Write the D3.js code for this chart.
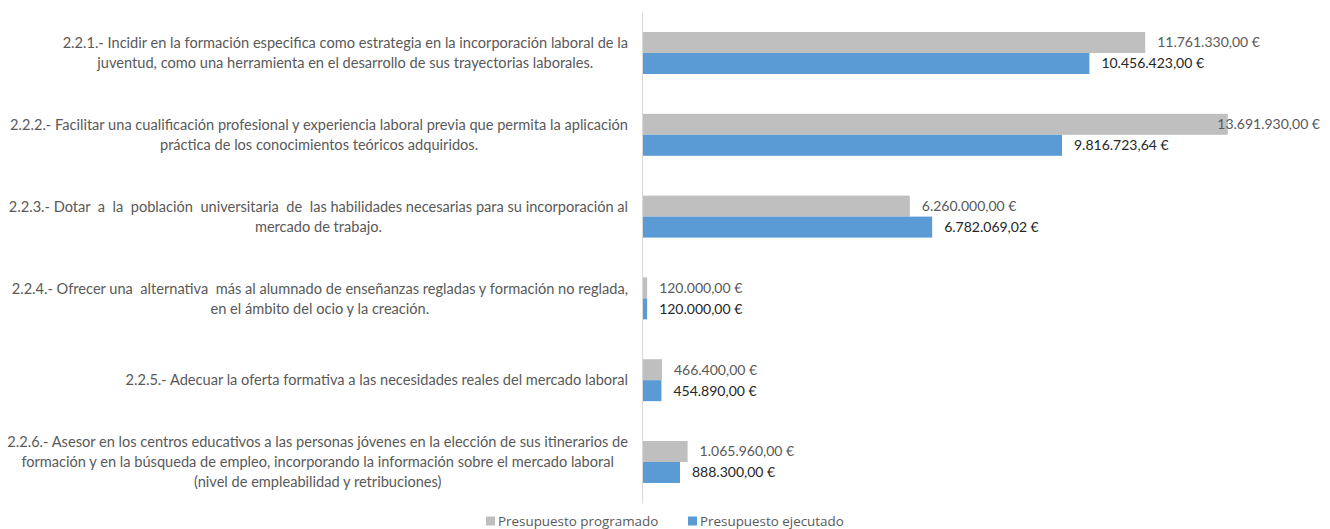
<!DOCTYPE html>
<head>
  <meta charset="utf-8">
  <script src="https://cdn.jsdelivr.net/npm/d3@7/dist/d3.min.js"></script>
  <style>
    body { margin:0; background:#fff; }
    svg { display:block; }
    .etiqueta text { white-space: pre; }
  </style>
</head>

<body>
  <script>
    var width = 1330;
    var height = 529;

    // category labels, one entry per line as they wrap in the picture
    var categorias = [
      ["2.2.1.- Incidir en la formación especifica como estrategia en la incorporación laboral de la",
       "juventud, como una herramienta en el desarrollo de sus trayectorias laborales."],
      ["2.2.2.- Facilitar una cualificación profesional y experiencia laboral previa que permita la aplicación",
       "práctica de los conocimientos teóricos adquiridos."],
      ["2.2.3.- Dotar  a  la  población  universitaria  de  las habilidades necesarias para su incorporación al",
       "mercado de trabajo."],
      ["2.2.4.- Ofrecer una  alternativa  más al alumnado de enseñanzas regladas y formación no reglada,",
       "en el ámbito del ocio y la creación."],
      ["2.2.5.- Adecuar la oferta formativa a las necesidades reales del mercado laboral"],
      ["2.2.6.- Asesor en los centros educativos a las personas jóvenes en la elección de sus itinerarios de",
       "formación y en la búsqueda de empleo, incorporando la información sobre el mercado laboral",
       "(nivel de empleabilidad y retribuciones)"]
    ];
    var series = ["Presupuesto programado", "Presupuesto ejecutado"];
    var programado = [11761330, 13691930, 6260000, 120000, 466400, 1065960];
    var ejecutado = [10456423, 9816723.64, 6782069.02, 120000, 454890, 888300];

    var colores = ["#bfbfbf", "#5b9bd5"];
    var colorTexto = ["#595959", "#262626"];
    var fuente = "Lato, 'Liberation Sans', sans-serif";

    var es = d3.formatLocale({ decimal: ",", thousands: ".", grouping: [3], currency: ["", " €"] });
    var fmt = es.format(",.2f");

    var svg = d3.select("body").append("svg")
      .attr("width", width)
      .attr("height", height)
      .style("font-family", fuente);

    var ids = categorias.map(function (d, i) { return i; });

    var y = d3.scaleBand()
      .domain(ids)
      .range([12, 503])
      .paddingInner(0.487)
      .paddingOuter(0.245);

    var ySub = d3.scaleBand()
      .domain([0, 1])
      .range([0, y.bandwidth()]);

    var x = d3.scaleLinear()
      .domain([0, 14000000])
      .range([642, 1241]);

    // bars
    var datos = ids.map(function (i) {
      return { i: i, vals: [programado[i], ejecutado[i]] };
    });

    var grupos = svg.selectAll("g.cat")
      .data(datos).enter()
      .append("g")
      .attr("class", "cat")
      .attr("transform", function (d) { return "translate(0," + y(d.i) + ")"; });

    grupos.selectAll("rect")
      .data(function (d) { return d.vals.map(function (v, s) { return { v: v, s: s }; }); })
      .enter().append("rect")
      .attr("x", x(0))
      .attr("y", function (d) { return ySub(d.s); })
      .attr("width", function (d) { return x(d.v) - x(0); })
      .attr("height", ySub.bandwidth())
      .attr("fill", function (d) { return colores[d.s]; });

    // value labels
    grupos.selectAll("text.valor")
      .data(function (d) { return d.vals.map(function (v, s) { return { v: v, s: s }; }); })
      .enter().append("text")
      .attr("class", "valor")
      .attr("y", function (d) { return ySub(d.s) + ySub.bandwidth() / 2; })
      .attr("dy", "0.35em")
      .attr("font-size", 14)
      .attr("fill", function (d) { return colorTexto[d.s]; })
      .text(function (d) { return fmt(d.v) + " €"; })
      .attr("x", function (d) {
        var w = this.getComputedTextLength();
        return Math.min(x(d.v) + 12, width - 10 - w);
      });

    // axis line
    svg.append("g")
      .attr("transform", "translate(" + x(0) + ",0)")
      .call(d3.axisLeft(y).tickSize(0).tickFormat(""))
      .select(".domain")
      .attr("stroke", "#d9d9d9");

    // category labels: block right aligned, lines centered inside it
    var etiquetas = svg.selectAll("g.etiqueta")
      .data(datos).enter()
      .append("g")
      .attr("class", "etiqueta");

    etiquetas.each(function (d) {
      var g = d3.select(this);
      var lineas = categorias[d.i];
      var cy = y(d.i) + y.bandwidth() / 2;
      var t = g.selectAll("text")
        .data(lineas).enter()
        .append("text")
        .attr("font-size", 14.6)
        .attr("fill", "#595959")
        .attr("text-anchor", "middle")
        .attr("y", function (l, k) { return cy + (k - (lineas.length - 1) / 2) * 20; })
        .attr("dy", "0.35em")
        .text(function (l) { return l; });
      var maxW = d3.max(t.nodes(), function (n) { return n.getComputedTextLength(); });
      t.attr("x", 628 - maxW / 2);
    });

    // legend
    var leyenda = svg.append("g")
      .attr("transform", "translate(0,521)")
      .style("font-family", "'Open Sans', sans-serif");
    var posLeyenda = [486, 688];
    series.forEach(function (s, k) {
      leyenda.append("rect")
        .attr("x", posLeyenda[k])
        .attr("y", -4.5)
        .attr("width", 9)
        .attr("height", 9)
        .attr("fill", colores[k]);
      leyenda.append("text")
        .attr("x", posLeyenda[k] + 12)
        .attr("dy", "0.35em")
        .attr("font-size", 13.4)
        .attr("fill", "#595959")
        .text(s);
    });
  </script>
</body>
</html>
